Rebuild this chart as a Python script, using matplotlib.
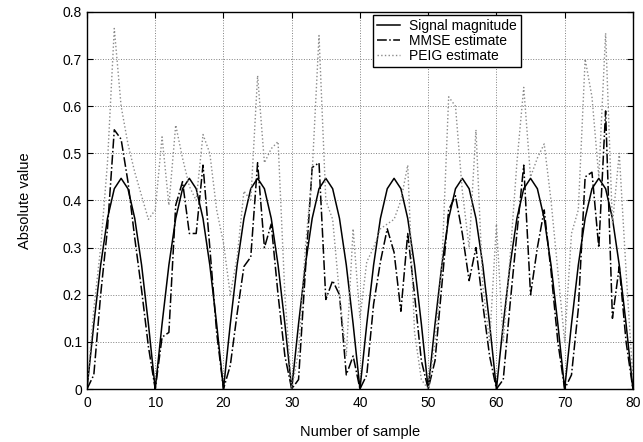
import numpy as np
import matplotlib
matplotlib.use("Agg")
import matplotlib.pyplot as plt

plt.rcParams['font.family'] = ['Liberation Sans', 'DejaVu Sans']

# sample index
samples = np.arange(81)

# true signal magnitude at each sample
signal_mag = [
    0.0, 0.138, 0.263, 0.362, 0.425, 0.447, 0.425, 0.362, 0.263, 0.138,
    0.0, 0.138, 0.263, 0.362, 0.425, 0.447, 0.425, 0.362, 0.263, 0.138,
    0.0, 0.138, 0.263, 0.362, 0.425, 0.447, 0.425, 0.362, 0.263, 0.138,
    0.0, 0.138, 0.263, 0.362, 0.425, 0.447, 0.425, 0.362, 0.263, 0.138,
    0.0, 0.138, 0.263, 0.362, 0.425, 0.447, 0.425, 0.362, 0.263, 0.138,
    0.0, 0.138, 0.263, 0.362, 0.425, 0.447, 0.425, 0.362, 0.263, 0.138,
    0.0, 0.138, 0.263, 0.362, 0.425, 0.447, 0.425, 0.362, 0.263, 0.138,
    0.0, 0.138, 0.263, 0.362, 0.425, 0.447, 0.425, 0.362, 0.263, 0.138,
    0.0,
]

mmse_est = [
    0.0, 0.03, 0.2, 0.34, 0.55, 0.53, 0.44, 0.32, 0.21, 0.09,
    0.0, 0.11, 0.12, 0.39, 0.44, 0.33, 0.33, 0.475, 0.3, 0.12,
    0.0, 0.05, 0.16, 0.26, 0.28, 0.48, 0.3, 0.35, 0.2, 0.07,
    0.0, 0.02, 0.25, 0.47, 0.48, 0.19, 0.23, 0.2, 0.03, 0.07,
    0.0, 0.03, 0.18, 0.27, 0.34, 0.29, 0.165, 0.33, 0.2, 0.06,
    0.0, 0.06, 0.22, 0.38, 0.41, 0.33, 0.23, 0.3, 0.18, 0.07,
    0.0, 0.02, 0.18, 0.33, 0.475, 0.2, 0.3, 0.38, 0.25, 0.1,
    0.0, 0.03, 0.17, 0.45, 0.46, 0.3, 0.59, 0.15, 0.26, 0.1,
    0.0,
]

peig_est = [
    0.0, 0.17, 0.3, 0.48, 0.765, 0.6, 0.52, 0.46, 0.41, 0.36,
    0.38, 0.535, 0.39, 0.56, 0.49, 0.43, 0.4, 0.54, 0.5, 0.38,
    0.31, 0.2, 0.28, 0.42, 0.4, 0.665, 0.48, 0.51, 0.525, 0.2,
    0.0, 0.08, 0.3, 0.46, 0.75, 0.4, 0.36, 0.2, 0.07, 0.34,
    0.15, 0.27, 0.3, 0.34, 0.35, 0.36, 0.4, 0.475, 0.12, 0.02,
    0.0, 0.1, 0.26, 0.62, 0.6, 0.42, 0.3, 0.55, 0.22, 0.1,
    0.35, 0.1, 0.28, 0.48, 0.64, 0.45, 0.49, 0.52, 0.4, 0.25,
    0.1, 0.33, 0.38, 0.7, 0.62, 0.45, 0.755, 0.35, 0.5, 0.25,
    0.02,
]

fig = plt.figure(figsize=(6.43, 4.42), dpi=100)
ax = fig.add_axes([0.1353, 0.1199, 0.849, 0.853])

ax.plot(samples, signal_mag, color='black', lw=1.1, ls='-', label='Signal magnitude')
ax.plot(samples, mmse_est, color='black', lw=1.1, ls='-.', label='MMSE estimate')
ax.plot(samples, peig_est, color='#8a8a8a', lw=1.0, ls=':', label='PEIG estimate')

ax.set_xlim(0, 80)
ax.set_ylim(0, 0.8)
ax.set_xticks(np.arange(0, 81, 10))
ax.set_yticks(np.arange(0, 0.81, 0.1))
ax.set_yticklabels(['0', '0.1', '0.2', '0.3', '0.4', '0.5', '0.6', '0.7', '0.8'])
ax.grid(True, color='#808080', ls=':', lw=0.7)
ax.tick_params(direction='in', top=True, right=True, length=4, labelsize=10)
ax.tick_params(axis='x', pad=5)
for sp in ax.spines.values():
    sp.set_linewidth(1.0)

ax.set_xlabel('Number of sample', fontsize=10.5, labelpad=11)
ax.set_ylabel('Absolute value', fontsize=10.5, labelpad=22)

leg = ax.legend(loc='upper left', bbox_to_anchor=(0.523, 0.992), fontsize=10,
                frameon=True, fancybox=False, edgecolor='black', framealpha=1,
                handlelength=1.7, handletextpad=0.6, borderpad=0.3,
                labelspacing=0.05, borderaxespad=0)
leg.get_frame().set_linewidth(1.0)

fig.savefig('out.png', dpi=100)
